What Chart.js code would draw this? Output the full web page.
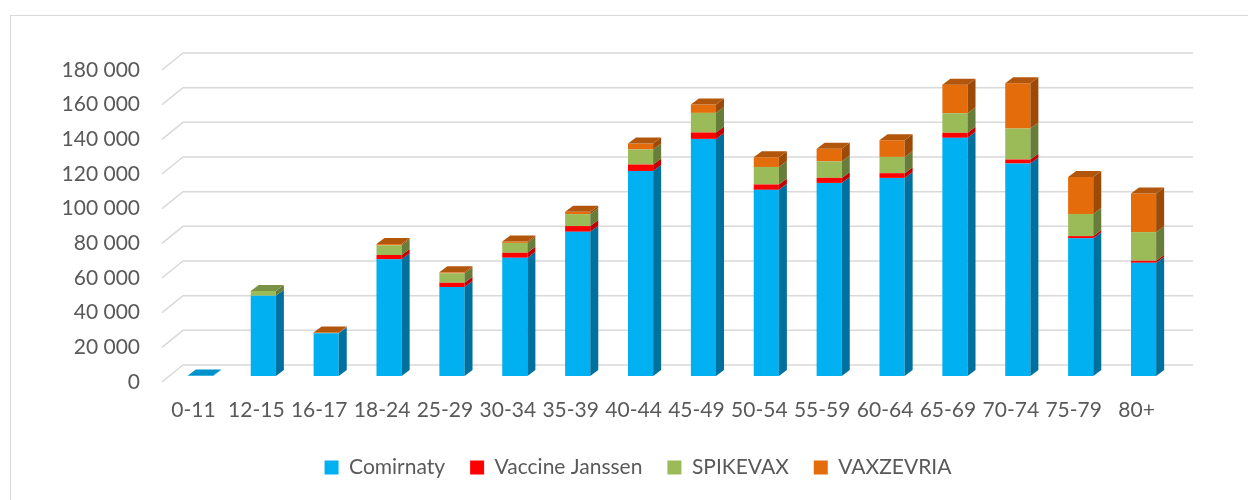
<!DOCTYPE html>
<html>
<head>
<meta charset="utf-8">
<script src="https://cdn.jsdelivr.net/npm/chart.js@4"></script>
<style>
  html, body { margin: 0; padding: 0; background: #fff; overflow: hidden; }
  #frame { position: absolute; left: 10px; top: 15px; width: 1260px; height: 500px; border: 1px solid #d9d9d9; }
  canvas { display: block; }
</style>
</head>
<body>
<div id="frame"><canvas id="vaxChart" width="1260" height="500"></canvas></div>
<script>
const ageGroups = ["0-11", "12-15", "16-17", "18-24", "25-29", "30-34", "35-39", "40-44",
  "45-49", "50-54", "55-59", "60-64", "65-69", "70-74", "75-79", "80+"];
const comirnaty = [300, 46300, 24600, 67300, 51300, 68200, 83200, 118300,
  136800, 107400, 111400, 114300, 137400, 122600, 79400, 65300];
const janssen = [0, 0, 0, 2500, 2500, 2900, 3300, 3700,
  3700, 3100, 2900, 2700, 2900, 2300, 1300, 1200];
const spikevax = [0, 2800, 200, 5600, 5400, 5700, 6900, 8700,
  11300, 10100, 9500, 9400, 11300, 17900, 12800, 16500];
const vaxzevria = [0, 0, 300, 700, 600, 800, 1300, 3400,
  4800, 5600, 7300, 9600, 16500, 26100, 21300, 22300];

// front, side, top colours per series
const shades = [
  ["#00B0F0", "#00709E", "#0092CA"],
  ["#FF0000", "#C00000", "#D80000"],
  ["#9BBB59", "#677D3A", "#7A9245"],
  ["#E46C0A", "#9C4A08", "#B2560C"],
];

// 3d look: depth offsets of the bars, front edge and back wall
const depth = { bx: 8, by: -6, fx: -7, fy: 6, wx: 14, wy: -11 };

const walls = {
  id: "walls",
  afterLayout(chart) {
    // legend sits centred under the whole (wider) frame, not the plot
    const lg = chart.legend;
    lg.left = 0;
    lg.right = 1254;
    lg.width = 1254;
  },
  beforeDatasetsDraw(chart) {
    const { ctx, chartArea, scales } = chart;
    ctx.save();
    ctx.strokeStyle = "#d9d9d9";
    ctx.lineWidth = 1.5;
    scales.y.ticks.forEach(t => {
      const y = scales.y.getPixelForValue(t.value);
      ctx.beginPath();
      ctx.moveTo(chartArea.left + depth.fx, y + depth.fy);
      ctx.lineTo(chartArea.left + depth.wx, y + depth.wy);
      ctx.lineTo(chartArea.right + depth.wx + 4, y + depth.wy);
      ctx.stroke();
    });
    ctx.restore();
  },
  afterDatasetsDraw(chart) {
    const { ctx } = chart;
    const n = chart.data.labels.length;
    ctx.save();
    for (let i = 0; i < n; i++) {
      let topSet = -1;
      chart.data.datasets.forEach((ds, d) => {
        if (ds.data[i] > 0) topSet = d;
      });
      chart.data.datasets.forEach((ds, d) => {
        if (!(ds.data[i] > 0)) return;
        const el = chart.getDatasetMeta(d).data[i];
        const xl = el.x - el.width / 2, xr = el.x + el.width / 2;
        const top = el.y, bot = el.base;
        ctx.fillStyle = shades[d][1];
        ctx.beginPath();
        ctx.moveTo(xr, top);
        ctx.lineTo(xr + depth.bx, top + depth.by);
        ctx.lineTo(xr + depth.bx, bot + depth.by);
        ctx.lineTo(xr, bot);
        ctx.closePath();
        ctx.fill();
        if (d === topSet) {
          ctx.fillStyle = shades[d][2];
          ctx.beginPath();
          ctx.moveTo(xl, top);
          ctx.lineTo(xl + depth.bx, top + depth.by);
          ctx.lineTo(xr + depth.bx, top + depth.by);
          ctx.lineTo(xr, top);
          ctx.closePath();
          ctx.fill();
        }
      });
    }
    ctx.restore();
  },
};

Chart.defaults.font.family = "Lato";
Chart.defaults.font.size = 21;
Chart.defaults.color = "#595959";

const series = [
  ["Comirnaty", comirnaty],
  ["Vaccine Janssen", janssen],
  ["SPIKEVAX", spikevax],
  ["VAXZEVRIA", vaxzevria],
];

new Chart(document.getElementById("vaxChart"), {
  type: "bar",
  data: {
    labels: ageGroups,
    datasets: series.map(([name, values], d) => ({
      label: name,
      data: values,
      backgroundColor: shades[d][0],
      borderWidth: 0,
      categoryPercentage: 1,
      barPercentage: 0.4,
    })),
  },
  options: {
    responsive: false,
    animation: false,
    layout: { padding: { left: 38, right: 96, top: 48, bottom: 28 } },
    plugins: {
      tooltip: { enabled: false },
      legend: {
        position: "bottom",
        labels: { boxWidth: 14, boxHeight: 14, padding: 25 },
      },
    },
    scales: {
      x: {
        stacked: true,
        grid: { display: false, drawTicks: false },
        border: { display: false },
        ticks: { padding: 22, labelOffset: -7, maxRotation: 0, autoSkip: false },
        afterFit: s => { s.height = 56; },
      },
      y: {
        stacked: true,
        min: 0,
        max: 180000,
        grid: { display: false, drawTicks: false },
        border: { display: false },
        ticks: {
          stepSize: 20000,
          padding: 29,
          labelOffset: 6,
          callback: v => String(v).replace(/\B(?=(\d{3})+(?!\d))/g, " "),
        },
        afterFit: s => { s.width = 120; },
      },
    },
  },
  plugins: [walls],
});
</script>
</body>
</html>
